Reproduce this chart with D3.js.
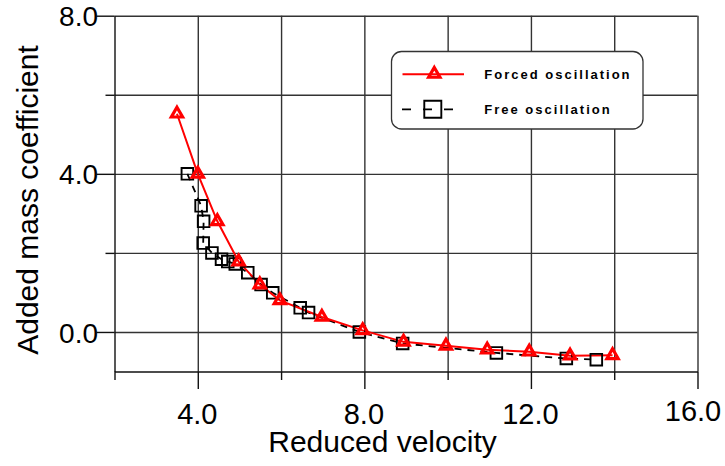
<!DOCTYPE html>
<html>
<head>
<meta charset="utf-8">
<script src="https://cdn.jsdelivr.net/npm/d3@7"></script>
<style>
  body { margin: 0; background: #fff; }
  svg text { font-family: "Liberation Sans", Arial, Helvetica, sans-serif; fill: #000; }
</style>
</head>
<body>
<svg id="chart" width="725" height="466"></svg>
<script>
// ---- data ----
const seriesNames = ["Forced oscillation", "Free oscillation"];

const forcedX = [3.5, 4.0, 4.47, 4.98, 5.49, 5.97, 6.98, 7.96, 8.94, 9.96, 10.95, 11.96, 12.94, 13.96];
const forcedY = [5.52, 4.0, 2.8, 1.78, 1.2, 0.8, 0.38, 0.04, -0.25, -0.35, -0.45, -0.5, -0.6, -0.59];

const freeX = [3.75, 4.08, 4.14, 4.13, 4.34, 4.57, 4.72, 4.9, 5.2, 5.52, 5.8, 6.46, 6.66, 7.88, 8.92, 11.17, 12.85, 13.57];
const freeY = [4.0, 3.19, 2.8, 2.25, 2.0, 1.84, 1.78, 1.72, 1.5, 1.2, 0.99, 0.61, 0.49, 0.0, -0.29, -0.53, -0.67, -0.7];

const xTicks = [2, 4, 6, 8, 10, 12, 14, 16];
const xMajorTicks = [4, 8, 12, 16];
const xTickLabels = ["4.0", "8.0", "12.0", "16.0"];

const yTicks = [0, 2, 4, 6, 8];
const yMajorTicks = [0, 4, 8];
const yTickLabels = ["0.0", "4.0", "8.0"];

const xTitle = "Reduced velocity";
const yTitle = "Added mass coefficient";

// ---- layout ----
const svg = d3.select("#chart");
const x = d3.scaleLinear().domain([2, 16]).range([114.5, 697.5]);
const y = d3.scaleLinear().domain([-1, 8]).range([371.5, 15.7]);

const gridColor = "#333";

// grid lines (the x=16 and y=8 lines close the frame)
const grid = svg.append("g").attr("class", "grid");
grid.append("g")
  .attr("transform", `translate(0,${y(-1)})`)
  .call(d3.axisBottom(x).tickValues(xTicks.filter(t => t > 2)).tickSize(-(y(-1) - y(8))).tickFormat(""))
  .call(g => g.select(".domain").remove())
  .call(g => g.selectAll("line").attr("stroke", gridColor).attr("stroke-width", 1.4));
grid.append("g")
  .attr("transform", `translate(${x(2)},0)`)
  .call(d3.axisLeft(y).tickValues(yTicks).tickSize(-(x(16) - x(2))).tickFormat(""))
  .call(g => g.select(".domain").remove())
  .call(g => g.selectAll("line").attr("stroke", gridColor).attr("stroke-width", 1.4));

// x axis: long ticks on major values, short on minor
const xAxis = svg.append("g")
  .attr("transform", `translate(0,${y(-1)})`)
  .call(d3.axisBottom(x).tickValues(xTicks).tickSizeOuter(0)
    .tickFormat(d => { const i = xMajorTicks.indexOf(d); return i >= 0 ? xTickLabels[i] : ""; }));
xAxis.select(".domain").attr("stroke", "#111").attr("stroke-width", 1.4);
xAxis.selectAll(".tick line")
  .attr("stroke", "#111").attr("stroke-width", 1.4)
  .attr("y2", d => xMajorTicks.includes(d) ? 17.5 : 8.5);
xAxis.selectAll(".tick text")
  .attr("y", d => d === 16 ? 49 : 52).attr("dy", null)
  .attr("dx", d => d === 16 ? -5 : -1)
  .attr("font-size", 29)
  .attr("fill", "#000");
xAxis.attr("font-family", null).attr("font-size", null);

// y axis
const yAxis = svg.append("g")
  .attr("transform", `translate(${x(2)},0)`)
  .call(d3.axisLeft(y).tickValues(yTicks).tickSizeOuter(0)
    .tickFormat(d => { const i = yMajorTicks.indexOf(d); return i >= 0 ? yTickLabels[i] : ""; }));
yAxis.select(".domain").attr("stroke", "#111").attr("stroke-width", 1.4);
yAxis.selectAll(".tick line")
  .attr("stroke", "#111").attr("stroke-width", 1.4)
  .attr("x2", d => yMajorTicks.includes(d) ? -18 : -9);
yAxis.selectAll(".tick text")
  .attr("x", -16.5).attr("dy", "0.36em")
  .attr("font-size", 28)
  .attr("fill", "#000");
yAxis.attr("font-family", null).attr("font-size", null);

// axis titles
svg.append("text")
  .attr("x", 382.5).attr("y", 452)
  .attr("text-anchor", "middle")
  .attr("font-size", 30)
  .text(xTitle);
svg.append("text")
  .attr("transform", `translate(37.5,200) rotate(-90)`)
  .attr("text-anchor", "middle")
  .attr("font-size", 30)
  .text(yTitle);

// ---- series ----
const freeData = freeX.map((v, i) => ({ x: v, y: freeY[i] }));
const forcedData = forcedX.map((v, i) => ({ x: v, y: forcedY[i] }));
const line = d3.line().x(d => x(d.x)).y(d => y(d.y));

const squareSym = d3.symbol(d3.symbolSquare);
const triSym = d3.symbol(d3.symbolTriangle);

svg.append("path")
  .datum(freeData)
  .attr("d", line)
  .attr("fill", "none")
  .attr("stroke", "#000")
  .attr("stroke-width", 1.8)
  .attr("stroke-dasharray", "7,6");

svg.append("path")
  .datum(forcedData)
  .attr("d", line)
  .attr("fill", "none")
  .attr("stroke", "#ff0000")
  .attr("stroke-width", 2);

svg.append("g").selectAll("path")
  .data(freeData)
  .join("path")
  .attr("transform", d => `translate(${x(d.x)},${y(d.y)})`)
  .attr("d", squareSym.size(135)())
  .attr("fill", "none")
  .attr("stroke", "#000")
  .attr("stroke-width", 1.9);

svg.append("g").selectAll("path")
  .data(forcedData)
  .join("path")
  .attr("transform", d => `translate(${x(d.x)},${y(d.y)})`)
  .attr("d", triSym.size(55)())
  .attr("fill", "none")
  .attr("stroke", "#ff0000")
  .attr("stroke-width", 3.2)
  .attr("stroke-linejoin", "miter");

// ---- legend ----
const legend = svg.append("g");
legend.append("rect")
  .attr("x", 391.5).attr("y", 51.5)
  .attr("width", 251.5).attr("height", 77.5)
  .attr("rx", 10).attr("ry", 10)
  .attr("fill", "#fff")
  .attr("stroke", "#333")
  .attr("stroke-width", 1.3);

// row 1: forced oscillation
legend.append("line")
  .attr("x1", 402.5).attr("x2", 464).attr("y1", 74.3).attr("y2", 74.3)
  .attr("stroke", "#ff0000").attr("stroke-width", 2);
legend.append("path")
  .attr("transform", "translate(434.3,74)")
  .attr("d", triSym.size(55)())
  .attr("fill", "none").attr("stroke", "#ff0000").attr("stroke-width", 3.2);

// row 2: free oscillation
legend.append("line")
  .attr("x1", 402).attr("x2", 453).attr("y1", 109.3).attr("y2", 109.3)
  .attr("stroke", "#000").attr("stroke-width", 1.8)
  .attr("stroke-dasharray", "9,12");
legend.append("path")
  .attr("transform", "translate(432.8,109.3)")
  .attr("d", squareSym.size(290)())
  .attr("fill", "none").attr("stroke", "#000").attr("stroke-width", 1.9);

legend.selectAll("text.lbl")
  .data(seriesNames)
  .join("text")
  .attr("class", "lbl")
  .attr("x", 484.3)
  .attr("y", (d, i) => i === 0 ? 79.3 : 114)
  .attr("font-size", 13)
  .attr("font-weight", "bold")
  .attr("letter-spacing", 2)
  .text(d => d);
</script>
</body>
</html>
